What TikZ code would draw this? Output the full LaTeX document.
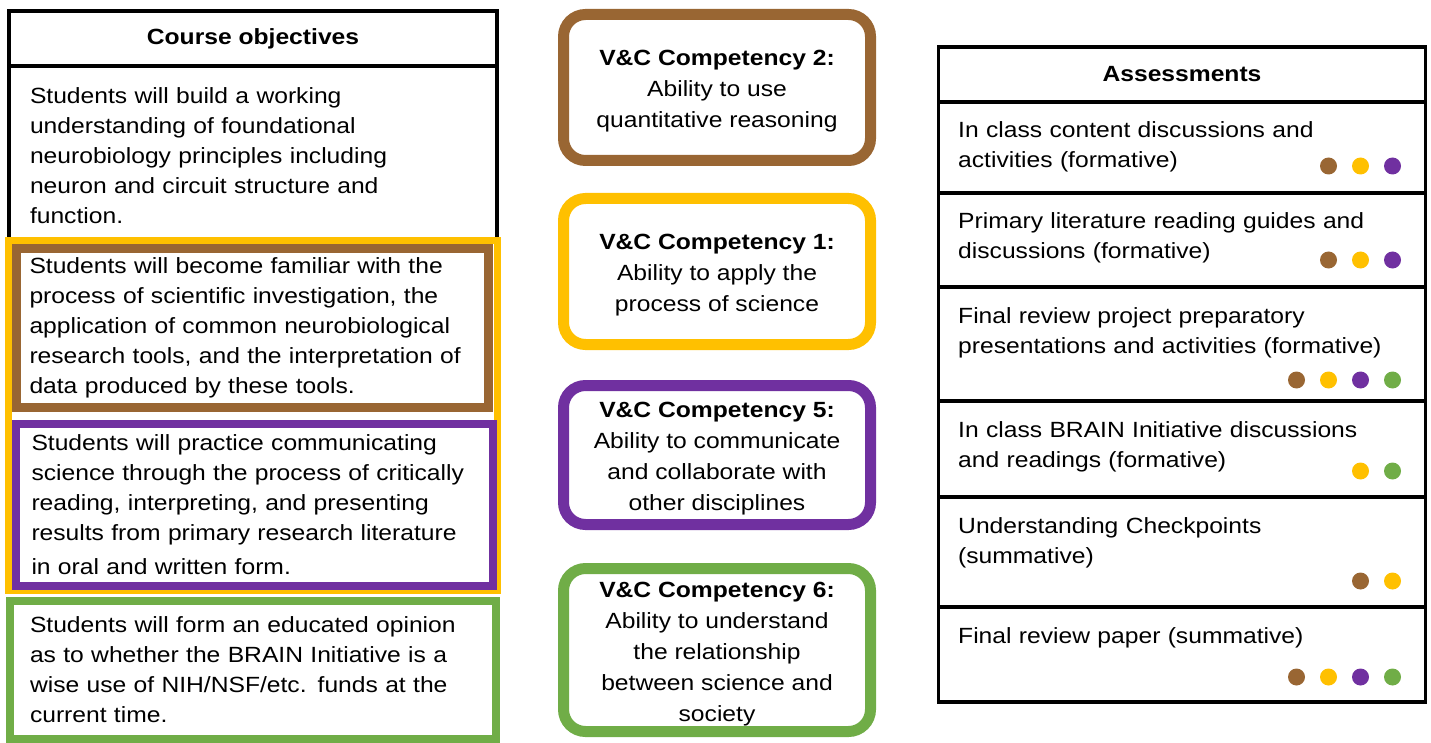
\documentclass[tikz,border=0pt]{standalone}
\usepackage{fontspec}
\setmainfont{Liberation Sans}[FakeStretch=1.12]
\usetikzlibrary{positioning}
\definecolor{vcbrown}{HTML}{996633}
\definecolor{vcyellow}{HTML}{FFC000}
\definecolor{vcpurple}{HTML}{7030A0}
\definecolor{vcgreen}{HTML}{70AD47}

\begin{document}
\begin{tikzpicture}[x=1pt, y=-1pt,
  box/.style={rectangle, draw=black, line width=3.5pt, outer sep=0pt, inner sep=0pt, minimum width=488pt},
  headtext/.style={font=\bfseries\fontsize{22}{30}\selectfont},
  objtext/.style={text width=446pt, align=left, font=\fontsize{22}{30}\selectfont},
  frame/.style={rectangle, line width=#1, outer sep=0pt, inner sep=0pt},
  comp/.style={rectangle, rounded corners=22pt, line width=11pt, fill=white, minimum width=307pt},
  comptext/.style={align=center, inner sep=0pt, font=\fontsize{22}{31}\selectfont},
  asmtext/.style={anchor=base west, inner sep=0pt, text width=450pt, align=left, font=\fontsize{22}{30}\selectfont},
  dot/.style={circle, inner sep=0pt, minimum size=17pt, fill=#1}]
\useasboundingbox (0,0) rectangle (1431,743);

% Course objectives
\node (objhead) [box, headtext, minimum height=55pt] at (253,38.5) {Course objectives};
\node (obj1) [box, objtext, minimum width=488pt, minimum height=174pt, below=0pt of objhead] {};
\node (obj1t) [objtext, yshift=-3pt] at (obj1.center) {Students will build a working\\understanding of foundational\\neurobiology principles including\\neuron and circuit structure and\\function.};

\node (yframe) [frame=7pt, draw=vcyellow, minimum width=488.5pt, minimum height=349.5pt] at (252.75,415.25) {};
\node (obj2) [frame=9pt, draw=vcbrown, objtext, minimum width=472pt, minimum height=159pt] at (252.5,328) {Students will become familiar with the\\process of scientific investigation, the\\application of common neurobiological\\research tools, and the interpretation of\\data produced by these tools.};
\node (obj3) [frame=8pt, draw=vcpurple, objtext, minimum width=477pt, minimum height=162pt] at (254.5,505) {Students will practice communicating\\science through the process of critically\\reading, interpreting, and presenting\\results from primary research literature\\[4pt]in oral and written form.};
\node (obj4) [frame=8pt, draw=vcgreen, objtext, minimum width=486pt, minimum height=138pt] at (253,670) {Students will form an educated opinion\\as to whether the BRAIN Initiative is a\\wise use of NIH/NSF/etc. funds at the\\current time.};

% V&C competencies
\node (comp2) [comp, draw=vcbrown, minimum height=146pt] at (717,87.5) {};
\node (comp1) [comp, draw=vcyellow, minimum height=146pt] at (717,271.5) {};
\node (comp5) [comp, draw=vcpurple, minimum height=139pt] at (717,455) {};
\node (comp6) [comp, draw=vcgreen, minimum height=163pt] at (717,650) {};

\node (comp2t) [comptext, yshift=-4pt] at (comp2.center) {\textbf{V\&C Competency 2:}\\Ability to use\\quantitative reasoning};
\node (comp1t) [comptext, yshift=-4pt] at (comp1.center) {\textbf{V\&C Competency 1:}\\Ability to apply the\\process of science};
\node (comp5t) [comptext, yshift=-4pt] at (comp5.center) {\textbf{V\&C Competency 5:}\\Ability to communicate\\and collaborate with\\other disciplines};
\node (comp6t) [comptext, yshift=-4pt] at (comp6.center) {\textbf{V\&C Competency 6:}\\Ability to understand\\the relationship\\between science and\\society};

% Assessments
\node (asmhead) [box, headtext, minimum width=487pt, minimum height=55pt] at (1182,74.5) {Assessments};
\node (r1) [box, minimum width=487pt, minimum height=91pt, below=0pt of asmhead] {};
\node (r2) [box, minimum width=487pt, minimum height=94pt, below=0pt of r1] {};
\node (r3) [box, minimum width=487pt, minimum height=114pt, below=0pt of r2] {};
\node (r4) [box, minimum width=487pt, minimum height=96pt, below=0pt of r3] {};
\node (r5) [box, minimum width=487pt, minimum height=110pt, below=0pt of r4] {};
\node (r6) [box, minimum width=487pt, minimum height=95pt, below=0pt of r5] {};

\node (r1t) [asmtext, xshift=19.5pt, yshift=-36pt] at (r1.north west) {In class content discussions and\\activities (formative)};
\node (r2t) [asmtext, xshift=19.5pt, yshift=-36pt] at (r2.north west) {Primary literature reading guides and\\discussions (formative)};
\node (r3t) [asmtext, xshift=19.5pt, yshift=-36pt] at (r3.north west) {Final review project preparatory\\presentations and activities (formative)};
\node (r4t) [asmtext, xshift=19.5pt, yshift=-36pt] at (r4.north west) {In class BRAIN Initiative discussions\\and readings (formative)};
\node (r5t) [asmtext, xshift=19.5pt, yshift=-36pt] at (r5.north west) {Understanding Checkpoints\\(summative)};
\node (r6t) [asmtext, xshift=19.5pt, yshift=-36pt] at (r6.north west) {Final review paper (summative)};

% competency dots, right to left
\foreach \r/\dy/\cols in {r1/27/{vcpurple,vcyellow,vcbrown}, r2/27/{vcpurple,vcyellow,vcbrown},
    r3/21/{vcgreen,vcpurple,vcyellow,vcbrown}, r4/26/{vcgreen,vcyellow}, r5/26/{vcyellow,vcbrown},
    r6/25/{vcgreen,vcpurple,vcyellow,vcbrown}}
  \foreach \c [count=\k] in \cols
    \node (\r-d\k) [dot=\c] at ([xshift={-1pt-32pt*\k}, yshift=\dy pt] \r.south east) {};

\end{tikzpicture}
\end{document}
